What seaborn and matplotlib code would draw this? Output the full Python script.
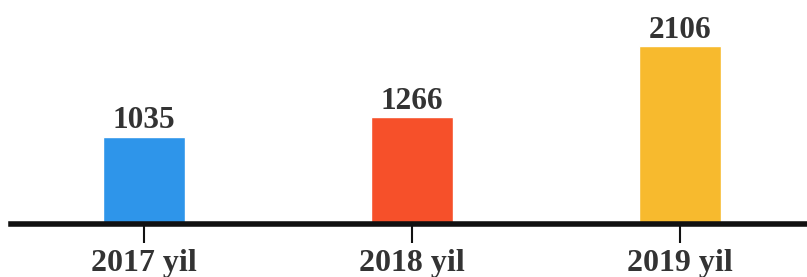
import pandas as pd
import seaborn as sns
import matplotlib.pyplot as plt

# datos
years = ['2017 yil', '2018 yil', '2019 yil']
values = [1035, 1266, 2106]
colors = ['#2E95EA', '#F6502A', '#F7BA2E']

df = pd.DataFrame({'year': years, 'value': values})

sns.set_style('white')
plt.rcParams['font.family'] = ['Liberation Serif', 'DejaVu Serif']

fig = plt.figure(figsize=(8.07, 2.77), dpi=100)
ax = fig.add_axes([11 / 807, 53 / 277, 796 / 807, 224 / 277])

sns.barplot(data=df, x='year', y='value', hue='year', palette=colors,
            width=0.306, saturation=1, legend=False, ax=ax)

# etiquetas encima de las barras
for c in ax.containers:
    ax.bar_label(c, fmt='%d', padding=1, fontsize=22.5, fontweight='bold', color='#333333')

ax.set_xlim(-0.496, 2.474)
ax.set_ylim(0, 2650)
ax.set_xlabel('')
ax.set_ylabel('')
ax.set_yticks([])

for s in ['top', 'right', 'left']:
    ax.spines[s].set_visible(False)
ax.spines['bottom'].set_linewidth(4)
ax.spines['bottom'].set_color('#111111')

ax.tick_params(axis='x', length=14, width=1.5, color='#111111', pad=4,
               labelsize=23, labelcolor='#333333', bottom=True)
for t in ax.get_xticklabels():
    t.set_fontweight('bold')

fig.savefig('out.png', dpi=100)
